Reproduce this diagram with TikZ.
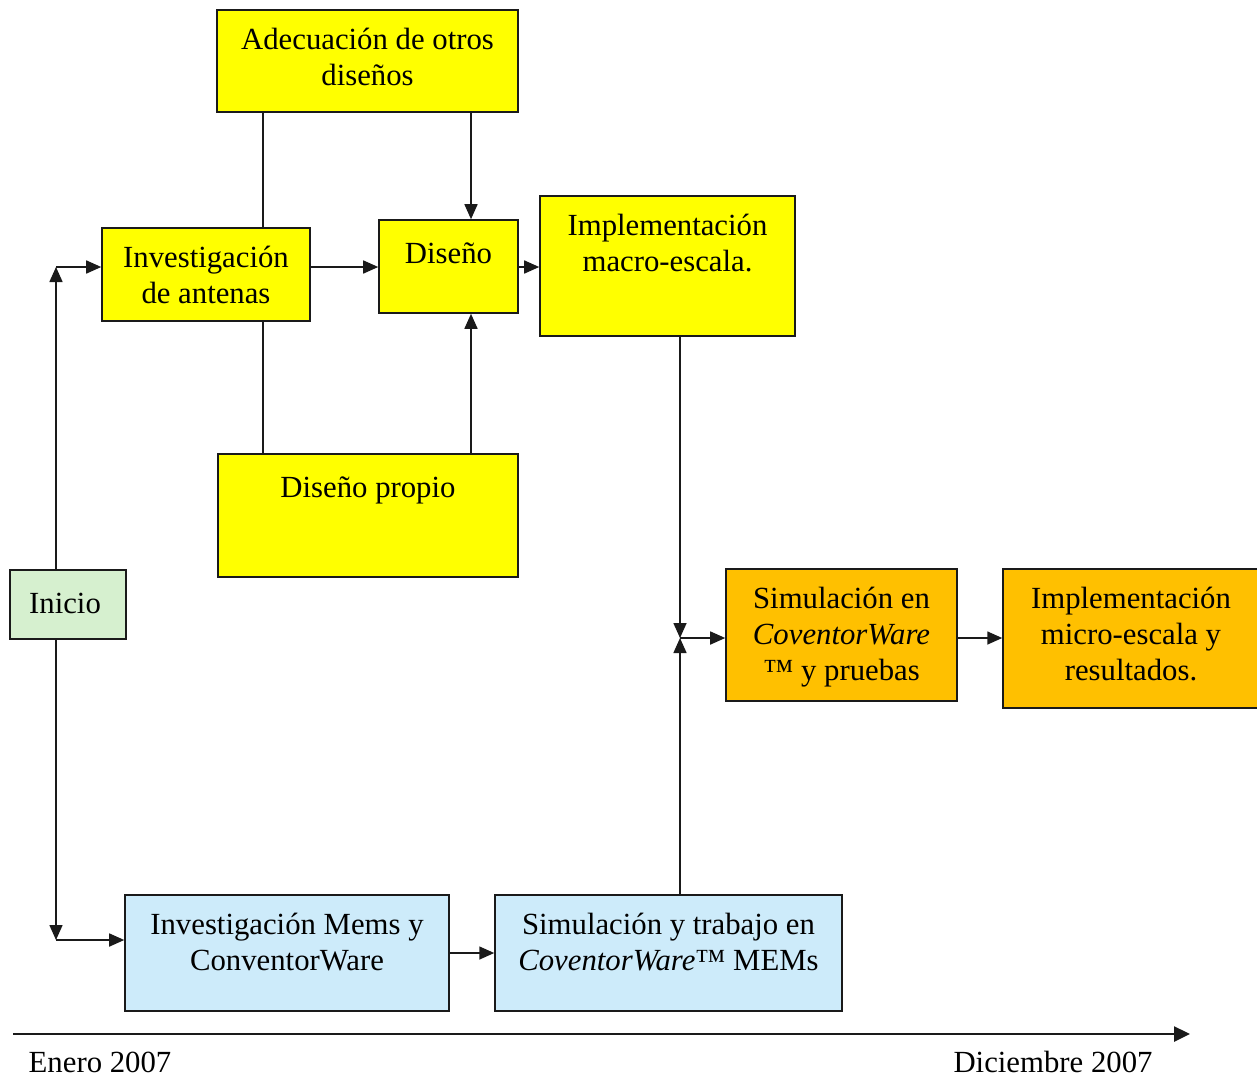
\documentclass[tikz,border=0pt]{standalone}
\usepackage{fontspec}
\setmainfont{Liberation Serif}
\usetikzlibrary{arrows.meta, positioning}
\definecolor{amarillo}{HTML}{FFFF00}
\definecolor{naranja}{HTML}{FFC000}
\definecolor{verdeclaro}{HTML}{D6F0CF}
\definecolor{celeste}{HTML}{CDEBFA}
\definecolor{trazo}{HTML}{1A1A1A}

\begin{document}
\begin{tikzpicture}[x=0.02cm, y=-0.02cm, font=\fontsize{17.5}{20.5}\selectfont]
    \tikzstyle{caja} = [rectangle, draw=trazo, line width=0.9pt, inner sep=0pt]
    \tikzstyle{texto} = [anchor=north, yshift=-0.38cm, align=center, inner sep=0pt, execute at begin node=\strut]
    \tikzstyle{flecha} = [-{Triangle[length=0.3cm, width=0.26cm]}, line width=0.9pt, trazo]
    \tikzstyle{linea} = [line width=0.9pt, trazo]
    \tikzstyle{tiempo} = [-{Triangle[length=0.32cm, width=0.3cm]}, line width=1.4pt, trazo]

    \useasboundingbox (0,0) rectangle (1257,1079);

    \node (adec) [caja, fill=amarillo, minimum width=6.02cm, minimum height=2.04cm] at (367.5,61)
      [label={[texto]north:Adecuación de otros\\diseños}] {};
    \node (invant) [caja, fill=amarillo, minimum width=4.16cm, minimum height=1.86cm] at (206,274.5)
      [label={[texto]north:Investigación\\de antenas}] {};
    \node (diseno) [caja, fill=amarillo, minimum width=2.78cm, minimum height=1.86cm] at (448.5,266.5)
      [label={[texto]north:Diseño}] {};
    \node (macro) [caja, fill=amarillo, minimum width=5.10cm, minimum height=2.80cm] at (667.5,266)
      [label={[texto]north:Implementación\\macro-escala.}] {};
    \node (propio) [caja, fill=amarillo, minimum width=6.00cm, minimum height=2.46cm] at (368,515.5)
      [label={[texto]north:Diseño propio}] {};
    \node (inicio) [caja, fill=verdeclaro, minimum width=2.32cm, minimum height=1.38cm] at (68,604.5)
      [label={[texto, xshift=-0.06cm]north:Inicio}] {};
    \node (simcov) [caja, fill=naranja, minimum width=4.62cm, minimum height=2.64cm] at (841.5,635)
      [label={[texto]north:Simulación en\\\textit{CoventorWare}\\™ y pruebas}] {};
    \node (micro) [caja, fill=naranja, minimum width=5.12cm, minimum height=2.78cm] at (1131,638.5)
      [label={[texto]north:Implementación\\micro-escala y\\resultados.}] {};
    \node (invmems) [caja, fill=celeste, minimum width=6.48cm, minimum height=2.32cm] at (287,953)
      [label={[texto]north:Investigación Mems y\\ConventorWare}] {};
    \node (simtrab) [caja, fill=celeste, minimum width=6.94cm, minimum height=2.32cm] at (668.5,953)
      [label={[texto]north:Simulación y trabajo en\\\textit{CoventorWare}™ MEMs}] {};

    \coordinate (subida) at (56,267);
    \coordinate (bajada) at (56,940);
    \coordinate (eje1) at (263,0);
    \coordinate (eje2) at (471,0);
    \coordinate (eje3) at (680,0);
    \coordinate (cruce) at (680,638);

    \draw [flecha] (inicio.north -| subida) -- (subida);
    \draw [flecha] (subida) -- (invant.west |- subida);
    \draw [flecha] (inicio.south -| bajada) -- (bajada);
    \draw [flecha] (bajada) -- (invmems.west |- bajada);
    \draw [flecha] (invant.east |- subida) -- (diseno.west |- subida);
    \draw [flecha] (diseno.east |- subida) -- (macro.west |- subida);
    \draw [linea] (adec.south -| eje1) -- (invant.north -| eje1);
    \draw [linea] (invant.south -| eje1) -- (propio.north -| eje1);
    \draw [flecha] (adec.south -| eje2) -- (diseno.north -| eje2);
    \draw [flecha] (propio.north -| eje2) -- (diseno.south -| eje2);
    \draw [flecha] (macro.south -| eje3) -- (cruce);
    \draw [flecha] (simtrab.north -| eje3) -- (cruce);
    \draw [flecha] (cruce) -- (simcov.west |- cruce);
    \draw [flecha] (simcov.east |- cruce) -- (micro.west |- cruce);
    \draw [flecha] (invmems.east) -- (simtrab.west);

    \coordinate (t0) at (13,1034);
    \coordinate (t1) at (1190,1034);
    \draw [tiempo] (t0) -- (t1);
    \node (enero) at (100,1062) {Enero 2007};
    \node (dic) at (1053,1062) {Diciembre 2007};
\end{tikzpicture}
\end{document}
